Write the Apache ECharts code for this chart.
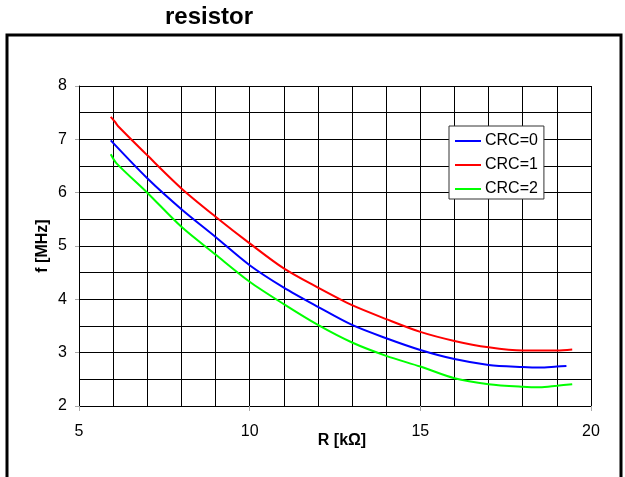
<!DOCTYPE html>
<html>
<head>
<meta charset="utf-8">
<script src="https://cdn.jsdelivr.net/npm/echarts@6/dist/echarts.min.js"></script>
<style>
html,body{margin:0;padding:0;background:#fff;}
#chart{width:625px;height:477px;}
</style>
</head>
<body>
<div id="chart"></div>
<script>
// R in kΩ, f in MHz
const seriesNames = ['CRC=0', 'CRC=1', 'CRC=2'];
const crc0R = [5.93, 7, 8, 9, 10, 11, 12, 13, 14, 15, 16, 17, 18, 18.5, 19, 19.28];
const crc0F = [6.98, 6.27, 5.69, 5.17, 4.64, 4.22, 3.86, 3.52, 3.27, 3.05, 2.88, 2.77, 2.73, 2.72, 2.74, 2.75];
const crc1R = [5.93, 6.05, 6.17, 7, 8, 9, 10, 11, 12, 13, 14, 15, 16, 17, 18, 19, 19.45];
const crc1F = [7.42, 7.33, 7.23, 6.70, 6.08, 5.55, 5.05, 4.58, 4.22, 3.89, 3.63, 3.39, 3.22, 3.10, 3.04, 3.04, 3.06];
const crc2R = [5.93, 6.1, 7, 8, 9, 10, 11, 12, 13, 14, 15, 16, 17, 18, 18.5, 19, 19.45];
const crc2F = [6.72, 6.55, 6.00, 5.36, 4.84, 4.33, 3.91, 3.52, 3.19, 2.94, 2.74, 2.52, 2.41, 2.36, 2.35, 2.38, 2.41];
const seriesColors = ['#0000ff', '#ff0000', '#00ff00'];

const pairs = (xs, ys) => xs.map((x, i) => [x, ys[i]]);
const seriesData = [pairs(crc0R, crc0F), pairs(crc1R, crc1F), pairs(crc2R, crc2F)];

const FONT = 'Liberation Sans, Arial, sans-serif';
const chart = echarts.init(document.getElementById('chart'), null, {renderer: 'canvas'});
chart.setOption({
  animation: false,
  backgroundColor: '#fff',
  title: {
    text: 'resistor',
    left: 165,
    top: 5,
    padding: 0,
    textStyle: {fontFamily: FONT, fontSize: 24, fontWeight: 'bold', color: '#000'}
  },
  graphic: [{
    type: 'rect',
    shape: {x: 7, y: 35, width: 614, height: 470},
    style: {fill: 'none', stroke: '#000', lineWidth: 3},
    silent: true,
    z: 100
  }],
  legend: {
    orient: 'vertical',
    left: 449,
    top: 126,
    padding: [7, 6, 2, 6],
    itemGap: 8,
    itemWidth: 26,
    itemHeight: 2,
    icon: 'rect',
    backgroundColor: '#fff',
    borderColor: '#333',
    borderWidth: 1,
    textStyle: {fontFamily: FONT, fontSize: 16, color: '#000', padding: [0, 0, 0, -1]},
    data: seriesNames
  },
  grid: {left: 79, top: 86, width: 512, height: 320, containLabel: false},
  xAxis: {
    type: 'value',
    min: 5, max: 20, interval: 5,
    name: 'R [kΩ]',
    nameLocation: 'middle',
    nameGap: 27,
    nameMoveOverlap: false,
    nameTextStyle: {fontFamily: FONT, fontSize: 16, fontWeight: 'bold', color: '#000', padding: [0, 0, 0, 14]},
    axisLine: {show: true, lineStyle: {color: '#000', width: 1}},
    axisTick: {show: true, length: 5, lineStyle: {color: '#aaa'}},
    axisLabel: {fontFamily: FONT, fontSize: 16, color: '#000', margin: 18},
    splitLine: {show: true, lineStyle: {color: '#000', width: 1}},
    minorTick: {show: false, splitNumber: 5},
    minorSplitLine: {show: true, lineStyle: {color: '#000', width: 1}}
  },
  yAxis: {
    type: 'value',
    min: 2, max: 8, interval: 1,
    name: 'f [MHz]',
    nameLocation: 'middle',
    nameGap: 28,
    nameMoveOverlap: false,
    nameTextStyle: {fontFamily: FONT, fontSize: 16, fontWeight: 'bold', color: '#000'},
    axisLine: {show: true, lineStyle: {color: '#000', width: 1}},
    axisTick: {show: true, length: 4, lineStyle: {color: '#aaa'}},
    axisLabel: {fontFamily: FONT, fontSize: 16, color: '#000', margin: 12},
    splitLine: {show: true, lineStyle: {color: '#000', width: 1}},
    minorTick: {show: false, splitNumber: 2},
    minorSplitLine: {show: true, lineStyle: {color: '#000', width: 1}}
  },
  series: seriesNames.map((name, i) => ({
    name: name,
    type: 'line',
    data: seriesData[i],
    symbol: 'none',
    smooth: 0.3,
    lineStyle: {color: seriesColors[i], width: 2},
    itemStyle: {color: seriesColors[i]},
    z: 3
  }))
});
</script>
</body>
</html>
